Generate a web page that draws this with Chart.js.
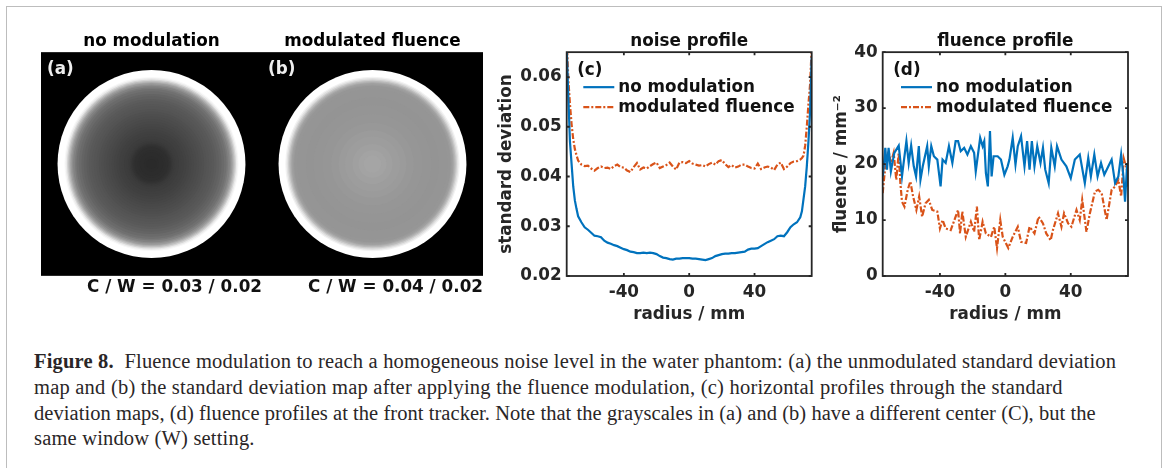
<!DOCTYPE html>
<html>
<head>
  <title>Figure 8</title>
  <script src="https://cdn.jsdelivr.net/npm/chart.js"></script>
  <style>
    html, body { margin: 0; background: #fff; }
    body { width: 1168px; height: 468px; position: relative; overflow: hidden; }
    canvas { position: absolute; }
    #frame { position: absolute; left: 6px; top: 6px; width: 1156px; height: 470px; border: 1.5px solid #bdbdbd; box-sizing: border-box; }
    .cap { position: absolute; left: 34px; white-space: nowrap; font: 20.5px "Liberation Serif", serif; letter-spacing: .18px; color: #2a2627; line-height: 20px; }
  </style>
</head>
<body>
  <div id="frame"></div>
  <canvas id="mapA" width="221" height="290" style="left:41px;top:20px"></canvas>
  <canvas id="mapB" width="221" height="290" style="left:262px;top:20px"></canvas>
  <canvas id="noise" width="330" height="310" style="left:490px;top:20px"></canvas>
  <canvas id="fluence" width="330" height="310" style="left:820px;top:20px"></canvas>
  <div class="cap" style="top:351px"><b>Figure 8.</b>&nbsp; Fluence modulation to reach a homogeneous noise level in the water phantom: (a) the unmodulated standard deviation</div>
  <div class="cap" style="top:377px;letter-spacing:.22px">map and (b) the standard deviation map after applying the fluence modulation, (c) horizontal profiles through the standard</div>
  <div class="cap" style="top:403px;letter-spacing:.05px">deviation maps, (d) fluence profiles at the front tracker. Note that the grayscales in (a) and (b) have a different center (C), but the</div>
  <div class="cap" style="top:428px">same window (W) setting.</div>
  <script>
    const BLUE = '#0072BD';
    const ORANGE = '#D95319';
    const DARK = '#262626';
    const FONT = '"DejaVu Sans", sans-serif';

    // radial grey profiles of the two maps, outer ring first (mm)
    const ringRadiusA = [75, 70.5, 69.5, 68.6, 67.5, 66.5, 65.5, 64.6, 63.5, 62.5, 61, 59.8, 58, 55.9, 54, 51.9, 50, 47.9, 46, 43.9, 42, 39.9, 38, 35.9, 34, 31.9, 30, 27.9, 26, 23.9, 22, 19.9, 18.5, 17.3, 16.3, 15.4, 14.3, 13.3, 11, 9.3, 6, 4];
    const ringGreyA = [255, 255, 248, 235, 212, 190, 172, 155, 142, 130, 120, 112, 106, 100, 96, 92, 89, 87, 85, 83, 80, 78, 76, 74, 72, 70, 68, 66, 64, 63, 61, 60, 58, 56, 53, 50, 48, 46, 45, 44, 43, 42];
    const ringRadiusB = [75, 70.7, 69.6, 68.6, 67.5, 66.5, 65.5, 64.6, 63.5, 62.5, 60, 53, 47, 40, 33, 27, 22, 16, 11, 7];
    const ringGreyB = [255, 255, 242, 225, 205, 185, 172, 160, 155, 150, 149, 148, 149, 150, 152, 155, 157, 160, 163, 165];

    // panel (c)
    const noiseRadius = [-75, -74, -73, -72, -71, -70, -69, -68, -66, -64, -62, -60, -58, -56, -54, -52, -50, -48, -46, -44, -42, -40, -38, -36, -34, -32, -30, -28, -26, -24, -22, -20, -18, -16, -14, -12, -10, -8, -6, -4, -2, 0, 2, 4, 6, 8, 10, 12, 14, 16, 18, 20, 22, 24, 26, 28, 30, 32, 34, 36, 38, 40, 42, 44, 46, 48, 50, 52, 54, 56, 58, 60, 62, 64, 66, 68, 69, 70, 71, 72, 73, 74, 75];
    const noisePlain = [.066, .056, .047, .0425, .038, .0352, .0335, .032, .0308, .0298, .0293, .0287, .0281, .028, .0278, .0271, .0267, .0265, .0262, .026, .0257, .0254, .0252, .0249, .0248, .0246, .0246, .0247, .0246, .0247, .0246, .0244, .024, .0237, .0236, .0234, .0233, .0235, .0235, .0236, .0236, .0236, .0235, .0235, .0234, .0233, .0232, .0234, .0236, .024, .0242, .0244, .0245, .0245, .0246, .0246, .0247, .0248, .0249, .0253, .0255, .0255, .0256, .026, .0264, .0268, .0271, .0274, .028, .0281, .028, .0288, .0298, .0304, .0308, .0318, .033, .0355, .038, .042, .047, .053, .064];
    const noiseModulated = [.068, .0595, .0545, .0505, .0475, .0455, .0443, .0432, .0424, .0421, .0422, .0416, .0412, .0417, .042, .0417, .0418, .0415, .0421, .0424, .0419, .0418, .0412, .0409, .0419, .0427, .0414, .0418, .0416, .0421, .0425, .0428, .0417, .042, .0423, .0428, .042, .0414, .0428, .0429, .0427, .0431, .0426, .0424, .0422, .0423, .042, .0425, .0428, .0424, .0431, .0433, .0425, .0419, .0423, .0418, .042, .0424, .0424, .042, .0417, .0416, .0426, .0415, .0418, .042, .0418, .0413, .0424, .0428, .0415, .042, .0427, .043, .0431, .0434, .0437, .0442, .0462, .05, .0545, .0585, .066];

    // panel (d)
    const fluenceRadiusPlain = [-74.9, -73.4, -72.4, -71.4, -70, -67.9, -65.2, -63.2, -62.2, -60.5, -59.1, -57.6, -56, -54.6, -52.9, -51.9, -50.5, -47.8, -46.8, -45.3, -43.7, -41.6, -39.6, -38.4, -36.5, -34.5, -32.4, -30.4, -28.9, -27.3, -25.2, -23.2, -21.1, -19.1, -18.1, -15.4, -13.9, -12.9, -11.9, -10.7, -9.4, -8.4, -7.2, -4.7, -2.7, -0.6, 1.4, 2.5, 4.5, 6.2, 7.6, 9.6, 11.7, 13.3, 14.8, 16.2, 17.8, 19.5, 21.5, 23, 24.4, 26.5, 28.1, 30.2, 31.6, 34.3, 37.3, 40, 42.5, 45.5, 48.6, 50.7, 52.3, 54.4, 56.4, 58.5, 60.5, 63, 65, 67.1, 69.1, 70.8, 72.2, 73.2, 74.5, 75];
    const fluencePlain = [17.8, 22.9, 19, 22.9, 18.7, 22, 23.3, 17.8, 20.2, 24.1, 20.2, 23.3, 19.6, 17.8, 23.2, 17.2, 19.6, 23.2, 19.6, 23.2, 21.4, 20.8, 16, 20.8, 20.2, 23.2, 20.2, 24.1, 24.1, 22.3, 22.9, 21.7, 23.2, 22, 18.7, 24.7, 23.2, 24.1, 18.4, 16, 25.9, 17.8, 21.4, 21.4, 20.8, 18.1, 19.6, 20.8, 24.7, 19.9, 23.2, 25, 19.6, 24.1, 19, 24.1, 19.6, 23.2, 20.2, 22.9, 19, 16.6, 22.9, 19.6, 23.2, 20.8, 19.6, 17.5, 20.8, 21.7, 16.6, 21.1, 17.8, 21.7, 17.8, 20.2, 18.1, 19.6, 20.8, 16.6, 17.8, 21.7, 17.8, 13.3, 20.2, 16];
    const fluenceRadiusModulated = [-75, -73.4, -71.4, -70, -68.3, -66.7, -65.2, -64.2, -63.2, -61.7, -59.7, -58.1, -56.4, -54.4, -52.7, -50.9, -48.8, -46.8, -44.7, -41.6, -40, -38.4, -36.5, -33.4, -30.4, -28.9, -27.7, -26.3, -24.2, -21.1, -19.1, -17.4, -16, -13.9, -11.9, -8.8, -6.8, -5.1, -3.1, -1.6, 1.8, 4.5, 7.6, 9.6, 12.7, 14.8, 17.8, 20.3, 23, 25, 27.7, 29.1, 32.2, 34.3, 35.9, 38.4, 40.4, 43.5, 45.5, 47, 49.6, 51.7, 54.8, 56.8, 58.9, 61.9, 65, 67.1, 69.1, 70.8, 72.4, 74.3, 75];
    const fluenceModulated = [14.8, 19.6, 22.3, 20.2, 22, 17.2, 22, 16.6, 13.3, 12.4, 15.4, 16.9, 14.2, 11.8, 14.2, 10.6, 13, 13.6, 11.8, 11.5, 8.5, 10, 8.5, 8.2, 10.6, 11.8, 7.6, 11.5, 7, 9.7, 7.9, 12.4, 6.4, 9.7, 7.6, 7, 8.8, 5, 10, 7, 5, 7, 8.8, 6.1, 5.9, 8.8, 7.6, 10.6, 9.4, 7.6, 6.4, 8.2, 11.2, 8.8, 11.2, 9.4, 8.8, 11.8, 10, 13.6, 7.9, 11.2, 15.1, 15.4, 14.8, 10, 15.4, 16, 17.2, 14.2, 21, 19, 17.8];

    const radiusTicks = [-40, 0, 40];
    const noiseTicks = [0.02, 0.03, 0.04, 0.05, 0.06];
    const fluenceTicks = [0, 10, 20, 30, 40];
    const legendNames = ['no modulation', 'modulated fluence'];

    const zip = (xs, ys) => xs.map((x, i) => ({ x: x, y: ys[i] }));

    // black image area and the (a)/(b) tag
    const mapPlugin = {
      id: 'mapBack',
      beforeDatasetsDraw(chart, args, opts) {
        const a = chart.chartArea, c = chart.ctx;
        c.save();
        c.fillStyle = '#000';
        c.fillRect(a.left, a.top, a.right - a.left, a.bottom - a.top);
        c.restore();
      },
      afterDatasetsDraw(chart, args, opts) {
        const a = chart.chartArea, c = chart.ctx;
        c.save();
        c.fillStyle = '#eee';
        c.font = 'bold 16.8px ' + FONT;
        c.textBaseline = 'middle';
        c.fillText(opts.tag, a.left + 6, a.top + 17);
        c.restore();
      }
    };

    function mapChart(id, radius, grey, tag, title, note) {
      return new Chart(document.getElementById(id), {
        type: 'scatter',
        data: { datasets: [{
          data: radius.map(() => ({ x: 0, y: 0 })),
          showLine: false,
          pointBorderWidth: 0,
          pointBackgroundColor: grey.map(g => `rgb(${g},${g},${g})`),
          pointHoverRadius: 0,
          // ring size comes from the x scale, so it is in mm like the profiles
          pointRadius: ctx => {
            const s = ctx.chart.scales.x;
            return s.getPixelForValue(radius[ctx.dataIndex]) - s.getPixelForValue(0);
          }
        }] },
        options: {
          responsive: false,
          animation: false,
          scales: {
            x: { display: false, min: -88.2, max: 88.2 },
            y: { display: false, min: -89, max: 89 }
          },
          plugins: {
            legend: { display: false },
            tooltip: { enabled: false },
            mapBack: { tag: tag },
            title: { display: true, text: title, color: '#000', font: { family: FONT, size: 16.8, weight: 'bold' }, padding: { top: 12, bottom: 0 } },
            subtitle: { display: true, position: 'bottom', align: 'end', text: note, color: '#111', font: { family: FONT, size: 16.8, weight: 'bold' }, padding: { top: 2, bottom: 12 } }
          }
        },
        plugins: [mapPlugin]
      });
    }

    // box, inward ticks and the legend inside the axes
    const boxPlugin = {
      id: 'box',
      afterDatasetsDraw(chart, args, opts) {
        const a = chart.chartArea, c = chart.ctx, sx = chart.scales.x, sy = chart.scales.y;
        c.save();
        c.strokeStyle = DARK;
        c.lineWidth = 1.8;
        c.strokeRect(a.left, a.top, a.right - a.left, a.bottom - a.top);
        c.beginPath();
        sx.ticks.forEach(t => {
          const x = sx.getPixelForValue(t.value);
          c.moveTo(x, a.bottom); c.lineTo(x, a.bottom - 3);
          c.moveTo(x, a.top); c.lineTo(x, a.top + 3);
        });
        sy.ticks.forEach(t => {
          const y = sy.getPixelForValue(t.value);
          c.moveTo(a.left, y); c.lineTo(a.left + 3, y);
          c.moveTo(a.right, y); c.lineTo(a.right - 3, y);
        });
        c.stroke();

        c.font = 'bold 16.8px ' + FONT;
        c.textBaseline = 'middle';
        c.fillStyle = '#111';
        c.fillText(opts.tag, a.left + 10.5, a.top + 18);
        chart.data.datasets.forEach((d, i) => {
          const y = a.top + 35 + i * 20;
          c.beginPath();
          c.strokeStyle = d.borderColor;
          c.lineWidth = d.borderWidth;
          c.setLineDash(d.borderDash || []);
          c.moveTo(a.left + opts.lineLeft, y);
          c.lineTo(a.left + opts.lineLeft + 31, y);
          c.stroke();
          c.setLineDash([]);
          c.fillStyle = '#111';
          c.fillText(d.label, a.left + opts.lineLeft + 35, y);
        });
        c.restore();
      }
    };

    function profileChart(id, plain, modulated, cfg) {
      const tickFont = { family: FONT, size: 16.8, weight: 'bold' };
      return new Chart(document.getElementById(id), {
        type: 'line',
        data: { datasets: [
          { label: legendNames[0], data: plain, borderColor: BLUE, borderWidth: 2.2, pointRadius: 0, tension: 0 },
          { label: legendNames[1], data: modulated, borderColor: ORANGE, borderWidth: 2.2, borderDash: [6, 2, 2, 2], pointRadius: 0, tension: 0 }
        ] },
        options: {
          responsive: false,
          animation: false,
          layout: { padding: { right: cfg.right, bottom: 5 } },
          scales: {
            x: {
              type: 'linear', min: -75, max: 75,
              grid: { display: false, drawTicks: false }, border: { display: false },
              afterBuildTicks: s => { s.ticks = radiusTicks.map(v => ({ value: v })); },
              afterFit: s => { s.height = 49; },
              ticks: { color: DARK, font: tickFont, padding: 6.5, maxRotation: 0, callback: v => String(v) },
              title: { display: true, text: 'radius / mm', color: DARK, font: tickFont, padding: { top: 2, bottom: 0 } }
            },
            y: {
              min: cfg.min, max: cfg.max,
              grid: { display: false, drawTicks: false }, border: { display: false },
              afterBuildTicks: s => { s.ticks = cfg.ticks.map(v => ({ value: v })); },
              afterFit: s => { s.width = cfg.left; },
              ticks: { color: DARK, font: tickFont, padding: 5, callback: cfg.format },
              title: { display: true, text: cfg.yTitle, color: DARK, font: tickFont, padding: { top: cfg.titleTop, bottom: 0 } }
            }
          },
          plugins: {
            legend: { display: false },
            tooltip: { enabled: false },
            box: { tag: cfg.tag, lineLeft: cfg.lineLeft },
            title: { display: true, text: cfg.title, fullSize: false, color: '#111', font: tickFont, padding: { top: 12, bottom: 0 } }
          }
        },
        plugins: [boxPlugin]
      });
    }

    mapChart('mapA', ringRadiusA, ringGreyA, '(a)', 'no modulation', 'C / W = 0.03 / 0.02');
    mapChart('mapB', ringRadiusB, ringGreyB, '(b)', 'modulated fluence', 'C / W = 0.04 / 0.02');
    profileChart('noise', zip(noiseRadius, noisePlain), zip(noiseRadius, noiseModulated), {
      min: 0.02, max: 0.065, ticks: noiseTicks, format: v => v.toFixed(2),
      yTitle: 'standard deviation', title: 'noise profile', tag: '(c)',
      left: 76.7, right: 8.3, lineLeft: 16.6, titleTop: 7
    });
    profileChart('fluence', zip(fluenceRadiusPlain, fluencePlain), zip(fluenceRadiusModulated, fluenceModulated), {
      min: 0, max: 40, ticks: fluenceTicks, format: v => String(v),
      yTitle: 'fluence / mm⁻²', title: 'fluence profile', tag: '(d)',
      left: 62.7, right: 22, lineLeft: 18.3, titleTop: 12
    });
  </script>
</body>
</html>
